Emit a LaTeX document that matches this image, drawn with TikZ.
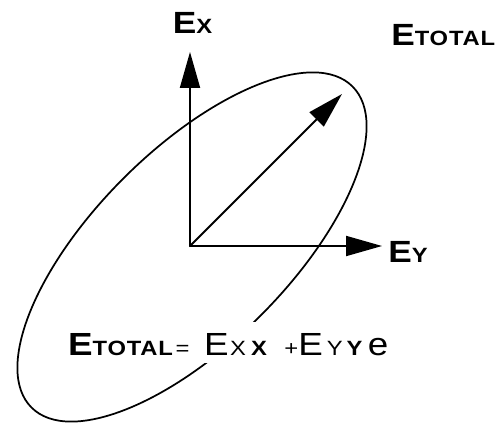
\documentclass[tikz,border=0pt]{standalone}
\usepackage{fontspec}
\usepackage{xcolor}
\usepackage{tikz}
\usetikzlibrary{arrows.meta}
\newfontfamily\helv[FakeStretch=1.15]{Liberation Sans}
\newcommand{\capsz}{\fontsize{23pt}{23pt}\selectfont}
\newcommand{\subsz}{\fontsize{15.5pt}{15.5pt}\selectfont\addfontfeature{LetterSpace=4}}
\newcommand{\eqcapsz}{\fontsize{24pt}{24pt}\selectfont}
\newcommand{\eqsubsz}{\fontsize{15.5pt}{15.5pt}\selectfont\addfontfeature{LetterSpace=4}}

\begin{document}
\begin{tikzpicture}[x=37.5pt, y=37.5pt, line cap=round, line join=round,
    vec/.style={line width=1.5pt, -{Triangle[length=27pt, width=15pt]}},
    lbl/.style={inner sep=0pt, anchor=base west, font=\helv}]
  \useasboundingbox (0,0) rectangle (10,8.52);
  % Origin, ellipse centre and arrow ends
  \coordinate (O) at (3.8,3.6);
  \coordinate (ctr) at (3.84,3.58);
  \coordinate (exTip) at (3.8,7.48);
  \coordinate (eyTip) at (7.64,3.6);
  \coordinate (totTip) at (6.84,6.64);
  % Polarization ellipse
  \draw[line width=1.3pt, rotate around={45:(ctr)}]
    (ctr) ellipse [x radius=4.54, y radius=1.94];
  % Field vectors
  \draw[vec] (O) -- (exTip);
  \draw[vec] (O) -- (eyTip);
  \draw[vec] (O) -- (totTip);
  % Labels
  \node[lbl, anchor=base] (exLabel) at (3.85,7.84)
    {\bfseries\capsz E\subsz X};
  \node[lbl] (totLabel) at (7.82,7.6)
    {\bfseries\capsz E\subsz TOTAL};
  \node[lbl] (eyLabel) at (7.76,3.28)
    {\bfseries\capsz E\subsz Y};
  % Equation, its box masks part of the ellipse
  \node[lbl, fill=white, inner xsep=4pt, text height=25pt, text depth=6pt]
    (eqLabel) at (1.25,1.42)
    {{\bfseries\eqcapsz E\eqsubsz TOTAL}\hspace{2pt}{\eqsubsz =}\hspace{11pt}%
     {\eqcapsz E}\hspace{1pt}{\eqsubsz X}\hspace{4pt}{\eqsubsz\bfseries X}\hspace{13pt}%
     {\eqsubsz +}{\eqcapsz E}\hspace{3pt}{\eqsubsz Y}\hspace{3pt}%
     {\eqsubsz\bfseries Y}\hspace{4pt}{\eqcapsz e}};
\end{tikzpicture}
\end{document}
